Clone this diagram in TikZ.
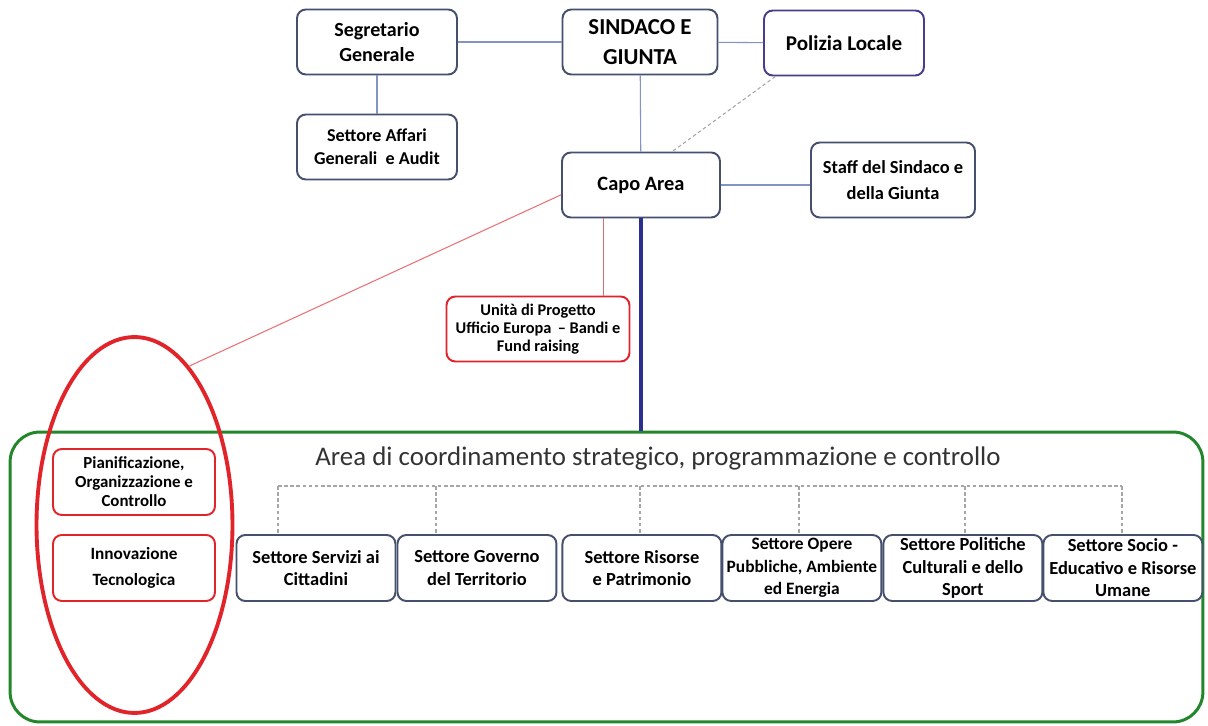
\documentclass[tikz,border=0pt]{standalone}
\usepackage{fontspec}
\setmainfont{Carlito}
\usepackage{tikz}
\usetikzlibrary{positioning,shapes.geometric,calc}

\definecolor{boxline}{HTML}{44506E}
\definecolor{polline}{HTML}{4A3C8C}
\definecolor{linkblue}{HTML}{8393C2}
\definecolor{boxred}{HTML}{E0242A}
\definecolor{pinkline}{HTML}{D07070}
\definecolor{areagreen}{HTML}{22872A}
\definecolor{capoline}{HTML}{2B2F8F}

\begin{document}
\begin{tikzpicture}[x=0.02cm, y=-0.02cm,
		every node/.style={align=center},
		unit/.style={draw=boxline, line width=1.1pt, rounded corners=5pt, fill=white,
			minimum width=3.2cm, minimum height=1.3cm, inner sep=1pt,
			font=\fontsize{10.5}{14}\selectfont\bfseries},
		redunit/.style={unit, draw=boxred},
		row/.style={unit, minimum width=3.18cm, minimum height=1.32cm, inner ysep=0pt,
			font=\fontsize{10.5}{12.8}\selectfont\bfseries},
		link/.style={draw=linkblue, line width=0.6pt},
		redlink/.style={draw=boxred!65, line width=0.6pt},
		dotlink/.style={draw=gray!70, line width=0.6pt, dash pattern=on 2pt off 1.5pt}]

	\useasboundingbox (0,0) rectangle (1208,726);

	\node [draw=areagreen, line width=1.7pt, rounded corners=17pt,
		minimum width=23.86cm, minimum height=5.8cm] (AR) at (606.5,577) {};
	\node (TT) at (658,458) [font=\fontsize{15.3}{18}\selectfont, text=black!80]
		{Area di coordinamento strategico, programmazione e controllo};

	\node [unit, font=\fontsize{11.4}{14}\selectfont\bfseries] (SG) at (377,42) {Segretario\\Generale};
	\node [unit, minimum width=3.1cm, font=\fontsize{13}{17}\selectfont\bfseries] (SI) at (640,42) {SINDACO E\\GIUNTA};
	\node [unit, draw=polline, font=\fontsize{12}{14}\selectfont\bfseries] (PL) at (844,43) {Polizia Locale};
	\node [unit, font=\fontsize{10.3}{13}\selectfont\bfseries] (AG) at (377,147) {Settore Affari\\Generali\ \ e Audit};
	\node [unit, minimum width=3.16cm, font=\fontsize{11.6}{14}\selectfont\bfseries] (CA) at (641,185) {Capo Area};
	\node [unit, minimum width=3.28cm, minimum height=1.5cm, font=\fontsize{10.5}{15}\selectfont\bfseries]
		(ST) at (893,180) {Staff del Sindaco e\\della Giunta};
	\node [redunit, minimum width=3.66cm, font=\fontsize{9.3}{10.4}\selectfont\bfseries] (UP) at (538,329)
		{Unità di Progetto\\Ufficio Europa \,-- Bandi e\\Fund raising};

	\node [redunit, font=\fontsize{9.6}{10.8}\selectfont\bfseries, minimum width=3.24cm, minimum height=1.32cm]
		(PO) at (134,482) {Pianificazione,\\Organizzazione e\\Controllo};
	\node [redunit, font=\fontsize{9.8}{15}\selectfont\bfseries, minimum width=3.24cm, minimum height=1.32cm]
		(IT) [below of=PO, node distance=1.72cm] {Innovazione\\Tecnologica};

	\node [row] (S1) at (316,568) {Settore Servizi ai\\Cittadini};
	\node [row] (S2) [right of=S1, node distance=3.22cm] {Settore Governo\\del Territorio};
	\node [row] (S3) [right of=S2, node distance=3.3cm] {Settore Risorse\\e Patrimonio};
	\node [row, font=\fontsize{9.9}{12.8}\selectfont\bfseries] (S4) [right of=S3, node distance=3.2cm]
		{Settore Opere\\Pubbliche, Ambiente\\ed Energia};
	\node [row] (S5) [right of=S4, node distance=3.22cm] {Settore Politiche\\Culturali e dello\\Sport};
	\node [row] (S6) [right of=S5, node distance=3.2cm] {Settore Socio -\\Educativo e Risorse\\Umane};

	\draw[link] (SG) -- (SI);
	\draw[link] (SI) -- (PL);
	\draw[link] (SG) -- (AG);
	\draw[link] (SI) -- (CA);
	\draw[link] (CA.east) -- (CA.east -| ST.west);
	\draw[dotlink] (PL.206) -- (CA.47);
	\draw[pinkline, line width=0.7pt] (UP.27) -- (UP.27 |- CA.south);
	\draw[capoline, line width=1.8pt] (CA.south) -- (CA.south |- AR.north);

	\coordinate (B1) at (278,486);
	\coordinate (B2) at (436,486);
	\coordinate (B3) at (640,486);
	\coordinate (B4) at (799,486);
	\coordinate (B5) at (965,486);
	\coordinate (B6) at (1122,486);
	\draw[dotlink] (B1) -- (B6);
	\foreach \i in {1,...,6}
		\draw[dotlink] (B\i) -- (B\i |- S\i.north);

	\node [draw=boxred, line width=2.2pt, ellipse, minimum width=3.92cm, minimum height=7.52cm] (EL) at (134.5,525) {};
	\draw[redlink] (CA.187) -- (EL.71);

\end{tikzpicture}
\end{document}
